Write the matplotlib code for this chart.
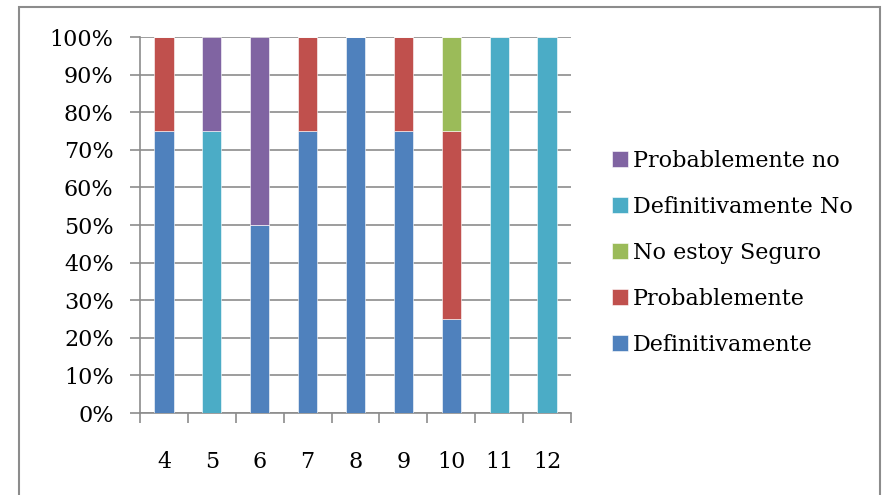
import matplotlib
matplotlib.use("Agg")
import matplotlib.pyplot as plt
from matplotlib.patches import Rectangle
import numpy as np

categories = ["4", "5", "6", "7", "8", "9", "10", "11", "12"]
series_names = ["Definitivamente", "Probablemente", "No estoy Seguro",
                "Definitivamente No", "Probablemente no"]
definitivamente = [75, 0, 50, 75, 100, 75, 25, 0, 0]
probablemente = [25, 0, 0, 25, 0, 25, 50, 0, 0]
no_seguro = [0, 0, 0, 0, 0, 0, 25, 0, 0]
definitivamente_no = [0, 75, 0, 0, 0, 0, 0, 100, 100]
probablemente_no = [0, 25, 50, 0, 0, 0, 0, 0, 0]
colors = ["#4F81BD", "#C0504D", "#9BBB59", "#4BACC6", "#8064A2"]

W, H = 886, 495
fig = plt.figure(figsize=(W/100, H/100), dpi=100)
plt.rcParams['font.family'] = ['DejaVu Serif']
FS = 16

# outer frame
fig.patches.append(Rectangle((19/W, -0.05), (880-19)/W, 1.05 - 7/H,
                             transform=fig.transFigure, fill=False,
                             edgecolor="#8C8C8C", linewidth=1.5))

left, right, top, bottom = 140, 571, 37, 413
ax = fig.add_axes([left/W, 1-bottom/H, (right-left)/W, (bottom-top)/H])

data = [definitivamente, probablemente, no_seguro, definitivamente_no, probablemente_no]
x = np.arange(len(categories))
base = np.zeros(len(categories))
handles = []
for name, vals, c in zip(series_names, data, colors):
    vals = np.array(vals, dtype=float)
    b = ax.bar(x, vals, bottom=base, width=0.4, color=c, label=name,
               edgecolor="white", linewidth=0.4, zorder=3)
    handles.append(b)
    base += vals

ax.set_xlim(-0.5, len(categories) - 0.5)
ax.set_ylim(0, 100)
ax.set_yticks(np.arange(0, 101, 10))
ax.set_yticklabels([f"{v}%" for v in range(0, 101, 10)], fontsize=FS)
ax.set_xticks(x)
ax.set_xticklabels(categories, fontsize=FS)
ax.set_xticks(np.arange(-0.5, len(categories), 1), minor=True)
ax.tick_params(axis='x', which='major', length=0, pad=27)
ax.tick_params(axis='x', which='minor', length=7, color="#8C8C8C", width=1.2)
ax.tick_params(axis='y', length=7, color="#8C8C8C", width=1.2, pad=12)
ax.yaxis.grid(True, color="#8C8C8C", linewidth=1.2, zorder=0)
ax.set_axisbelow(True)
for s in ["top", "right"]:
    ax.spines[s].set_visible(False)
for s in ["left", "bottom"]:
    ax.spines[s].set_color("#8C8C8C")
    ax.spines[s].set_linewidth(1.2)

leg = fig.legend(handles[::-1], series_names[::-1], loc="center left",
                 bbox_to_anchor=(612/W, 1-253/H), frameon=False,
                 fontsize=FS, handlelength=0.7, handleheight=0.7,
                 handletextpad=0.25, labelspacing=1.08, borderpad=0,
                 borderaxespad=0)

fig.savefig("out.png", dpi=100)
